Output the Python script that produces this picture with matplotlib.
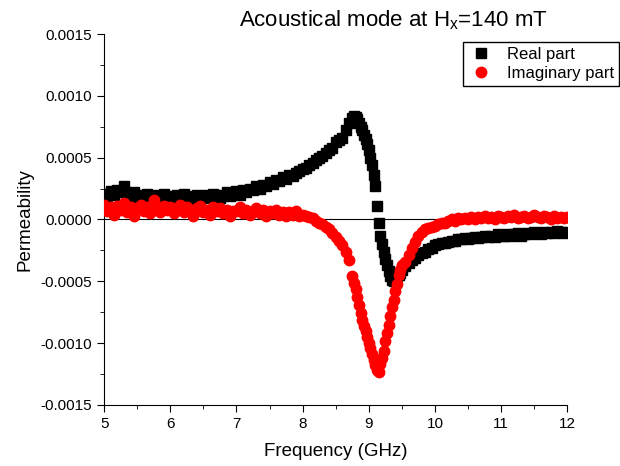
import numpy as np
import matplotlib
matplotlib.use("Agg")
import matplotlib.pyplot as plt
from matplotlib.ticker import MultipleLocator, FormatStrFormatter

plt.rcParams['font.family'] = ['Liberation Sans', 'DejaVu Sans']

# frequency sweep (GHz): 0.05 step, 0.025 step around the resonance
freq = [5.00, 5.05, 5.10, 5.15, 5.20, 5.25, 5.30, 5.35, 5.40, 5.45,
        5.50, 5.55, 5.60, 5.65, 5.70, 5.75, 5.80, 5.85, 5.90, 5.95,
        6.00, 6.05, 6.10, 6.15, 6.20, 6.25, 6.30, 6.35, 6.40, 6.45,
        6.50, 6.55, 6.60, 6.65, 6.70, 6.75, 6.80, 6.85, 6.90, 6.95,
        7.00, 7.05, 7.10, 7.15, 7.20, 7.25, 7.30, 7.35, 7.40, 7.45,
        7.50, 7.55, 7.60, 7.65, 7.70, 7.75, 7.80, 7.85, 7.90, 7.95,
        8.00, 8.05, 8.10, 8.15, 8.20, 8.25, 8.30, 8.35, 8.40, 8.45,
        8.50, 8.55, 8.60, 8.65, 8.70, 8.75,
        8.775, 8.800, 8.825, 8.850, 8.875, 8.900, 8.925, 8.950, 8.975, 9.000,
        9.025, 9.050, 9.075, 9.100, 9.125, 9.150, 9.175, 9.200, 9.225, 9.250,
        9.275, 9.300, 9.325, 9.350, 9.375, 9.400, 9.425, 9.450, 9.475, 9.500,
        9.55, 9.60, 9.65, 9.70, 9.75, 9.80, 9.85, 9.90, 9.95, 10.00,
        10.05, 10.10, 10.15, 10.20, 10.25, 10.30, 10.35, 10.40, 10.45, 10.50,
        10.55, 10.60, 10.65, 10.70, 10.75, 10.80, 10.85, 10.90, 10.95, 11.00,
        11.05, 11.10, 11.15, 11.20, 11.25, 11.30, 11.35, 11.40, 11.45, 11.50,
        11.55, 11.60, 11.65, 11.70, 11.75, 11.80, 11.85, 11.90, 11.95, 12.00]

real_part = [0.00021, 0.00019, 0.00023, 0.00020, 0.00024, 0.00022, 0.00027, 0.00021, 0.00019, 0.00022,
             0.00018, 0.00020, 0.00017, 0.00021, 0.00019, 0.00016, 0.00020, 0.00018, 0.00021, 0.00017,
             0.00019, 0.00016, 0.00020, 0.00018, 0.00021, 0.00017, 0.00019, 0.00016, 0.00020, 0.00018,
             0.00017, 0.00020, 0.00018, 0.00021, 0.00019, 0.00017, 0.00020, 0.00022, 0.00019, 0.00021,
             0.00023, 0.00020, 0.00024, 0.00022, 0.00025, 0.00024, 0.00027, 0.00025, 0.00028, 0.00027,
             0.00030, 0.00029, 0.00032, 0.00031, 0.00034, 0.00033, 0.00036, 0.00035, 0.00038, 0.00039,
             0.00041, 0.00042, 0.00044, 0.00046, 0.00048, 0.00050, 0.00051, 0.00054, 0.00056, 0.00058,
             0.00063, 0.00064, 0.00066, 0.00072, 0.00078, 0.00082,
             0.00084, 0.00083, 0.00081, 0.00078, 0.00075, 0.00072, 0.00068, 0.00065, 0.00061, 0.00056,
             0.00050, 0.00044, 0.00036, 0.00027, 0.00011, -0.00003, -0.00013, -0.00020, -0.00026, -0.00032,
             -0.00037, -0.00042, -0.00046, -0.00049, -0.00050, -0.00048, -0.00046, -0.00045, -0.00043, -0.00041,
             -0.00038, -0.00035, -0.00033, -0.00031, -0.00029, -0.00027, -0.00026, -0.00024, -0.00023, -0.00021,
             -0.00020, -0.00019, -0.00019, -0.00018, -0.00017, -0.00017, -0.00016, -0.00016, -0.00015, -0.00016,
             -0.00015, -0.00014, -0.00015, -0.00014, -0.00013, -0.00014, -0.00013, -0.00014, -0.00012, -0.00013,
             -0.00013, -0.00012, -0.00013, -0.00012, -0.00011, -0.00013, -0.00012, -0.00011, -0.00012, -0.00010,
             -0.00011, -0.00012, -0.00010, -0.00011, -0.00010, -0.00011, -0.00009, -0.00010, -0.00011, -0.00010]

imag_part = [0.00012, 0.00007, 0.00010, 0.00004, 0.00011, 0.00008, 0.00013, 0.00006, 0.00010, 0.00003,
             0.00009, 0.00012, 0.00007, 0.00010, 0.00005, 0.00016, 0.00009, 0.00006, 0.00011, 0.00008,
             0.00010, 0.00005, 0.00009, 0.00012, 0.00006, 0.00010, 0.00008, 0.00003, 0.00009, 0.00011,
             0.00006, 0.00008, 0.00004, 0.00010, 0.00007, 0.00009, 0.00005, 0.00008, 0.00003, 0.00007,
             0.00007, 0.00010, 0.00005, 0.00008, 0.00004, 0.00007, 0.00009, 0.00005, 0.00008, 0.00003,
             0.00007, 0.00005, 0.00008, 0.00004, 0.00006, 0.00003, 0.00006, 0.00004, 0.00007, 0.00003,
             0.00004, 0.00003, 0.00002, 0.00001, -0.00001, -0.00003, -0.00004, -0.00006, -0.00008, -0.00011,
             -0.00014, -0.00017, -0.00021, -0.00026, -0.00033, -0.00046,
             -0.00051, -0.00056, -0.00063, -0.00069, -0.00076, -0.00081, -0.00086, -0.00090, -0.00095, -0.00100,
             -0.00104, -0.00109, -0.00114, -0.00118, -0.00122, -0.00123, -0.00117, -0.00112, -0.00106, -0.00098,
             -0.00092, -0.00085, -0.00078, -0.00071, -0.00065, -0.00058, -0.00052, -0.00045, -0.00041, -0.00037,
             -0.00034, -0.00029, -0.00023, -0.00018, -0.00013, -0.00010, -0.00008, -0.00007, -0.00006, -0.00005,
             -0.00004, -0.00003, -0.00003, -0.00001, 0.00000, -0.00001, 0.00001, 0.00000, 0.00001, 0.00000,
             0.00002, 0.00000, 0.00002, 0.00001, 0.00003, 0.00001, 0.00002, 0.00000, 0.00003, 0.00002,
             0.00001, 0.00003, 0.00002, 0.00004, 0.00001, 0.00002, 0.00003, 0.00001, 0.00002, 0.00004,
             0.00002, 0.00001, 0.00003, 0.00002, 0.00000, 0.00003, 0.00001, 0.00002, 0.00001, 0.00002]

fig = plt.figure(figsize=(6.2, 4.66), dpi=100)
ax = fig.add_axes([0.168, 0.131, 0.747, 0.796])

ax.axhline(0, color='black', lw=0.8, zorder=1)
ax.plot(freq, real_part, 's', color='black', ms=6.5, label='Real part', zorder=2)
ax.plot(freq, imag_part, 'o', color='red', ms=7.5, label='Imaginary part', zorder=3)

ax.set_xlim(5, 12)
ax.set_ylim(-0.0015, 0.0015)
ax.xaxis.set_major_locator(MultipleLocator(1))
ax.xaxis.set_minor_locator(MultipleLocator(0.5))
ax.yaxis.set_major_locator(MultipleLocator(0.0005))
ax.yaxis.set_minor_locator(MultipleLocator(0.00025))
ax.yaxis.set_major_formatter(FormatStrFormatter('%.4f'))
ax.tick_params(which='major', direction='out', length=5, labelsize=11)
ax.tick_params(which='minor', direction='out', length=3)
ax.spines['top'].set_visible(False)
ax.spines['right'].set_visible(False)

ax.set_xlabel('Frequency (GHz)', fontsize=13.5, labelpad=9)
ax.set_ylabel('Permeability', fontsize=13.5, labelpad=5)
fig.text(0.884, 0.943, 'Acoustical mode at H$_\\mathregular{x}$=140 mT', ha='right', fontsize=16)

fig.legend(loc='upper right', bbox_to_anchor=(0.998, 0.91), fontsize=12,
           frameon=True, fancybox=False, edgecolor='black', framealpha=1,
           borderaxespad=0, borderpad=0.3, handletextpad=0.8, labelspacing=0.25,
           handlelength=1.5)

fig.savefig('out.png', dpi=100)
